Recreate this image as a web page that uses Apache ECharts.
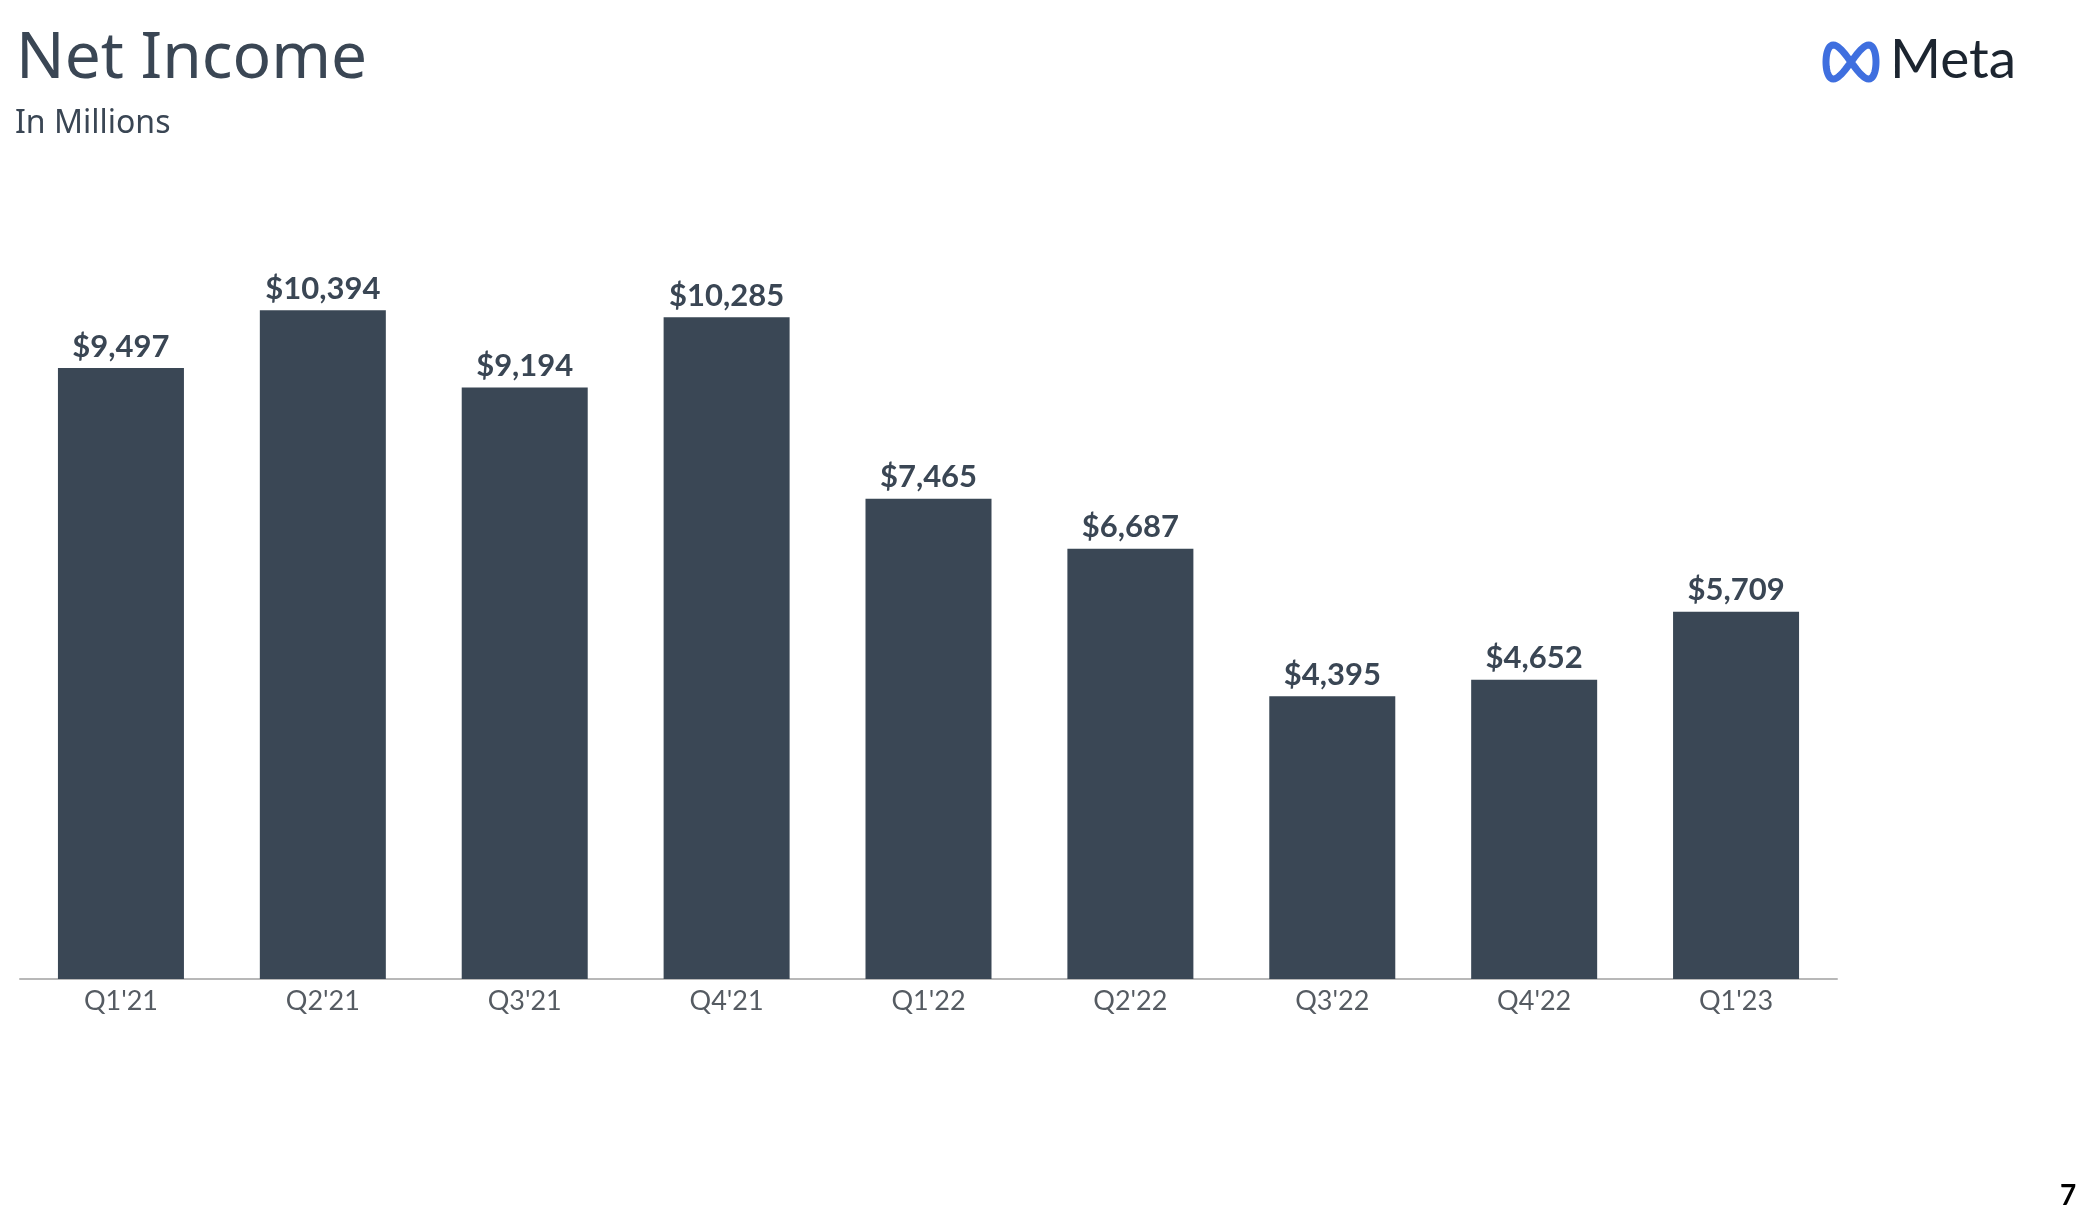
<!DOCTYPE html>
<html><head><meta charset="utf-8">
<script src="https://cdn.jsdelivr.net/npm/echarts@6/dist/echarts.min.js"></script>
<style>html,body{margin:0;padding:0;background:#fff}#c{width:2100px;height:1232px}</style>
</head><body><div id="c"></div>
<script>
const categories = ["Q1'21","Q2'21","Q3'21","Q4'21","Q1'22","Q2'22","Q3'22","Q4'22","Q1'23"];
const netIncome = [9497,10394,9194,10285,7465,6687,4395,4652,5709];
const titleText = 'Net Income';
const subtitleText = 'In Millions';
const pageNumber = '7';

// Meta logo infinity outline (decorative)
const logoPts = [];
for (let i = 0; i <= 80; i++) {
  const t = i / 80 * Math.PI * 2;
  logoPts.push([1851 + 25 * Math.sin(t), 62 - 17 * Math.sin(2 * t)]);
}

const chart = echarts.init(document.getElementById('c'), null, {renderer:'canvas'});
chart.setOption({
  backgroundColor:'#fff',
  animation:false,
  grid:{left:20, right:263, top:207, bottom:253, containLabel:false},
  xAxis:{type:'category', data:categories,
    axisLine:{show:true, lineStyle:{color:'#b8b8b8', width:2}},
    axisTick:{show:false},
    axisLabel:{color:'#555b62', fontFamily:'Lato', fontSize:27, margin:9}
  },
  yAxis:{type:'value', min:0, max:12000, show:false, splitLine:{show:false}},
  series:[{type:'bar', data:netIncome, barWidth:126,
    itemStyle:{color:'#3a4755'},
    label:{show:true, position:'top', distance:6, color:'#3a4654', fontFamily:'Lato', fontWeight:'bold', fontSize:31,
      formatter:p=>'$'+p.value.toLocaleString('en-US')}
  }],
  graphic:[
    {type:'text', left:16, top:28, style:{text:titleText, fontFamily:'Noto Sans', fontSize:64, fill:'#3a4654'}},
    {type:'text', left:15, top:108, style:{text:subtitleText, fontFamily:'Noto Sans', fontSize:32, fill:'#3a4654'}},
    {type:'polyline', shape:{points:logoPts, smooth:0},
      style:{fill:null, lineWidth:7, stroke:'#3f6fdf'}},
    {type:'text', left:1890, top:33, style:{text:'Meta', fontFamily:'Lato', fontSize:55, fill:'#1c2530'}},
    {type:'text', left:2060, top:1182, style:{text:pageNumber, fontFamily:'Lato', fontWeight:'bold', fontSize:28, fill:'#000'}}
  ]
});
</script></body></html>
